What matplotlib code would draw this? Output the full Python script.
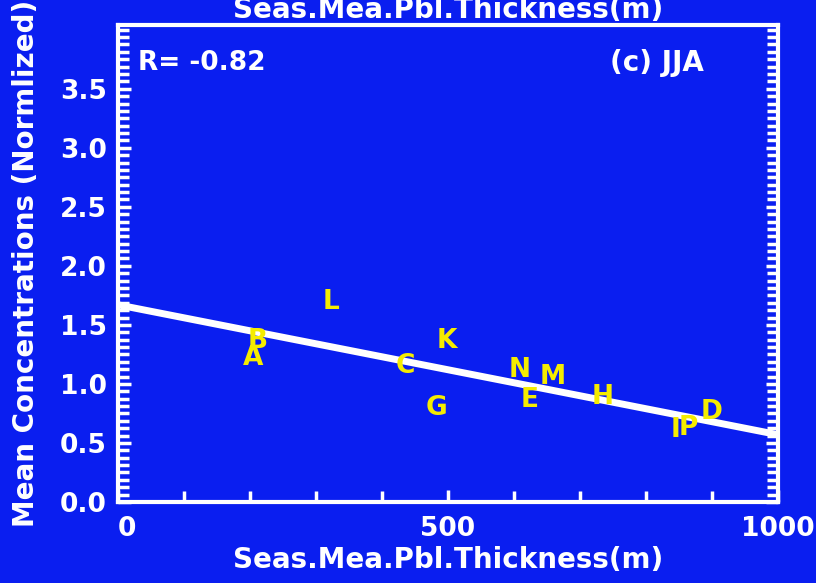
import matplotlib
matplotlib.use("Agg")
from matplotlib import pyplot as plt
from matplotlib.ticker import MultipleLocator

# station letters and their (pbl thickness, normalized concentration)
labels = ["L", "B", "A", "K", "C", "G", "N", "M", "E", "H", "I", "P", "D"]
pbl = [323, 212, 205, 498, 436, 483, 609, 659, 624, 735, 844, 864, 899]
conc = [1.69, 1.36, 1.22, 1.36, 1.15, 0.80, 1.12, 1.06, 0.86, 0.89, 0.61, 0.63, 0.76]

# regression line end points
fit_x = [0, 1000]
fit_y = [1.67, 0.57]

r_text = "R= -0.82"
panel_text = "(c) JJA"
xlab = "Seas.Mea.Pbl.Thickness(m)"
ylab = "Mean Concentrations (Normlized)"

blue = "#0a1ef0"
yellow = "#f5ec00"

plt.rcParams["font.family"] = ["DejaVu Sans"]
plt.rcParams["font.weight"] = "bold"

fig = plt.figure(figsize=(8.16, 5.83), dpi=100, facecolor=blue)
ax = fig.add_axes([118 / 816, 1 - 502 / 583, 660 / 816, 477 / 583])
ax.set_facecolor(blue)

ax.plot(fit_x, fit_y, color="white", lw=5, solid_capstyle="butt", zorder=2)
for lab, x, y in zip(labels, pbl, conc):
    ax.text(x, y, lab, color=yellow, fontsize=19, fontweight="bold",
            ha="center", va="center", zorder=3)

ax.set_xlim(0, 1000)
ax.set_ylim(0, 4.04)

ax.xaxis.set_minor_locator(MultipleLocator(100))
ax.yaxis.set_minor_locator(MultipleLocator(0.0625))
ax.set_yticks([0, 0.5, 1.0, 1.5, 2.0, 2.5, 3.0, 3.5])
ax.set_yticklabels(["0.0", "0.5", "1.0", "1.5", "2.0", "2.5", "3.0", "3.5"])
ax.set_xticks([0, 500, 1000])
ax.set_xticklabels(["0", "500", "1000"])
xt = ax.get_xticklabels()
xt[0].set_ha("left")

for s in ax.spines.values():
    s.set_color("white")
    s.set_linewidth(3)

ax.tick_params(which="both", direction="in", color="white", width=2.5,
               bottom=True, left=True, right=True, top=False,
               labelcolor="white", labelsize=19)
ax.tick_params(which="major", length=9)
ax.tick_params(which="minor", length=8)
ax.tick_params(axis="x", pad=10)
ax.tick_params(axis="y", pad=8)
for t in ax.get_xticklabels() + ax.get_yticklabels():
    t.set_fontweight("bold")

ax.set_xlabel(xlab, color="white", fontsize=20, fontweight="bold", labelpad=3)
ax.set_ylabel(ylab, color="white", fontsize=20, fontweight="bold", labelpad=14)

ax.text(0.03, 0.92, r_text, transform=ax.transAxes, color="white",
        fontsize=19, fontweight="bold", ha="left", va="center")
ax.text(0.745, 0.92, panel_text, transform=ax.transAxes, color="white",
        fontsize=20, fontweight="bold", ha="left", va="center")

# clipped title at the very top
fig.text(448 / 816, 1 - 10 / 583, xlab, color="white", fontsize=20,
         fontweight="bold", ha="center", va="center")

fig.savefig("out.png", dpi=100, facecolor=blue)
